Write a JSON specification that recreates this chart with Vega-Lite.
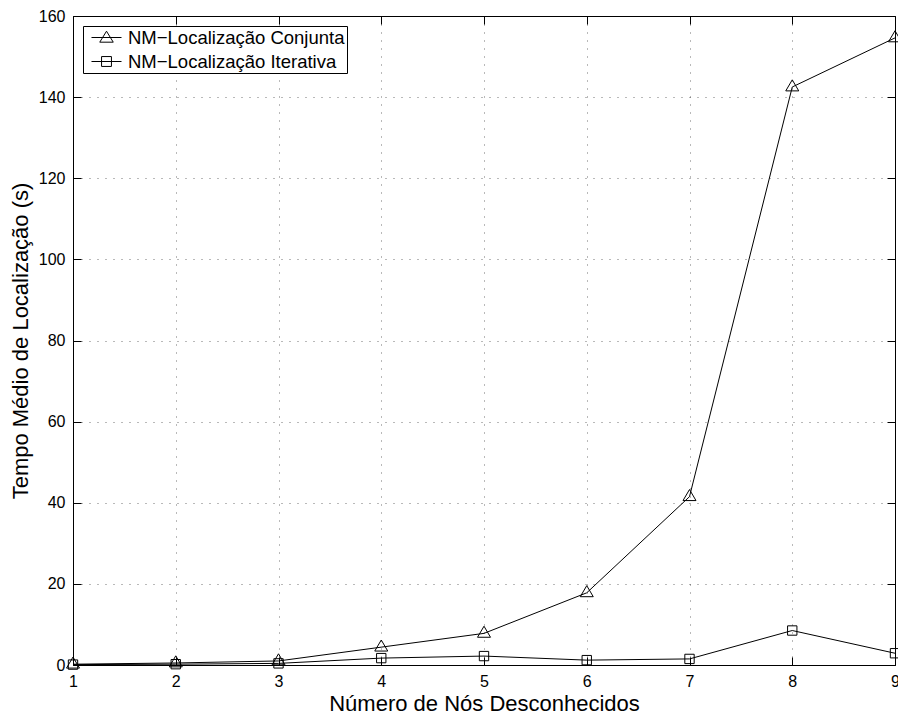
{
  "$schema": "https://vega.github.io/schema/vega-lite/v6.json",
  "width": 822,
  "height": 649,
  "autosize": "none",
  "padding": {"left": 73, "top": 16, "right": 3, "bottom": 53},
  "background": "white",
  "config": {
    "view": {"stroke": null},
    "font": "Liberation Sans",
    "axis": {
      "labelFont": "Liberation Sans",
      "titleFont": "Liberation Sans",
      "labelFontSize": 16,
      "titleFontSize": 22,
      "titleFontWeight": "normal",
      "labelColor": "black",
      "titleColor": "black",
      "domainColor": "black",
      "domainWidth": 1,
      "tickColor": "black",
      "tickWidth": 1,
      "tickSize": -8,
      "labelPadding": 16,
      "gridColor": "black",
      "gridDash": [1, 7],
      "gridOpacity": 0.55,
      "gridWidth": 1
    },
    "legend": {
      "labelFont": "Liberation Sans",
      "labelFontSize": 18.5,
      "labelColor": "black",
      "labelLimit": 400
    }
  },
  "data": {
    "values": [
      {"n": 1, "t": 0.2, "serie": "NM−Localização Conjunta"},
      {"n": 2, "t": 0.5, "serie": "NM−Localização Conjunta"},
      {"n": 3, "t": 1.0, "serie": "NM−Localização Conjunta"},
      {"n": 4, "t": 4.4, "serie": "NM−Localização Conjunta"},
      {"n": 5, "t": 7.8, "serie": "NM−Localização Conjunta"},
      {"n": 6, "t": 17.8, "serie": "NM−Localização Conjunta"},
      {"n": 7, "t": 41.5, "serie": "NM−Localização Conjunta"},
      {"n": 8, "t": 142.5, "serie": "NM−Localização Conjunta"},
      {"n": 9, "t": 154.6, "serie": "NM−Localização Conjunta"},
      {"n": 1, "t": 0.1, "serie": "NM−Localização Iterativa"},
      {"n": 2, "t": 0.2, "serie": "NM−Localização Iterativa"},
      {"n": 3, "t": 0.4, "serie": "NM−Localização Iterativa"},
      {"n": 4, "t": 1.7, "serie": "NM−Localização Iterativa"},
      {"n": 5, "t": 2.2, "serie": "NM−Localização Iterativa"},
      {"n": 6, "t": 1.2, "serie": "NM−Localização Iterativa"},
      {"n": 7, "t": 1.5, "serie": "NM−Localização Iterativa"},
      {"n": 8, "t": 8.5, "serie": "NM−Localização Iterativa"},
      {"n": 9, "t": 2.9, "serie": "NM−Localização Iterativa"}
    ]
  },
  "resolve": {"axis": {"x": "independent", "y": "independent"}, "scale": {"shape": "independent"}},
  "layer": [
    {
      "mark": {"type": "line", "color": "black", "strokeWidth": 1},
      "encoding": {
        "x": {
          "field": "n", "type": "quantitative",
          "scale": {"domain": [1, 9], "nice": false, "zero": false},
          "axis": {"orient": "bottom", "title": "Número de Nós Desconhecidos", "values": [1, 2, 3, 4, 5, 6, 7, 8, 9], "format": "d", "grid": true, "titlePadding": 4, "labelFlush": false}
        },
        "y": {
          "field": "t", "type": "quantitative",
          "scale": {"domain": [0, 160], "nice": false},
          "axis": {"orient": "left", "title": "Tempo Médio de Localização (s)", "values": [0, 20, 40, 60, 80, 100, 120, 140, 160], "grid": true, "titlePadding": 6, "labelFlush": false}
        },
        "detail": {"field": "serie", "type": "nominal"}
      }
    },
    {
      "mark": {"type": "point", "filled": false, "stroke": "black", "strokeWidth": 1, "opacity": 1, "size": 169},
      "encoding": {
        "x": {
          "field": "n", "type": "quantitative",
          "scale": {"domain": [1, 9], "nice": false, "zero": false},
          "axis": {"orient": "top", "labels": false, "title": null, "grid": false, "values": [1, 2, 3, 4, 5, 6, 7, 8, 9]}
        },
        "y": {
          "field": "t", "type": "quantitative",
          "scale": {"domain": [0, 160], "nice": false},
          "axis": {"orient": "right", "labels": false, "title": null, "grid": false, "values": [0, 20, 40, 60, 80, 100, 120, 140, 160]}
        },
        "shape": {
          "field": "serie", "type": "nominal",
          "scale": {
            "domain": ["NM−Localização Conjunta", "NM−Localização Iterativa"],
            "range": ["M-1,0.6L0,-1.1L1,0.6Z", "M-0.72,-0.72H0.72V0.72H-0.72Z"]
          },
          "legend": null
        }
      }
    },
    {
      "transform": [{"filter": "datum.n > 100"}],
      "mark": {"type": "point", "filled": false, "stroke": "black", "strokeWidth": 1, "opacity": 1, "size": 324},
      "encoding": {
        "x": {
          "field": "n", "type": "quantitative",
          "scale": {"domain": [1, 9], "nice": false, "zero": false},
          "axis": null
        },
        "y": {
          "field": "t", "type": "quantitative",
          "scale": {"domain": [0, 160], "nice": false},
          "axis": null
        },
        "shape": {
          "field": "serie", "type": "nominal",
          "scale": {
            "domain": ["NM−Localização Conjunta", "NM−Localização Iterativa"],
            "range": ["M-1.667,0H1.667M-0.75,0.52L0,-0.7L0.75,0.52Z", "M-1.667,0H1.667M-0.55,-0.55H0.55V0.55H-0.55Z"]
          },
          "legend": {
            "title": null,
            "orient": "top-left",
            "offset": 10,
            "padding": 2,
            "strokeColor": "black",
            "fillColor": "white",
            "symbolSize": 324,
            "symbolOffset": 12,
            "labelOffset": 12,
            "rowPadding": 5,
            "symbolStrokeColor": "black",
            "symbolStrokeWidth": 1,
            "symbolFillColor": "transparent",
            "symbolOpacity": 1
          }
        }
      }
    }
  ]
}
